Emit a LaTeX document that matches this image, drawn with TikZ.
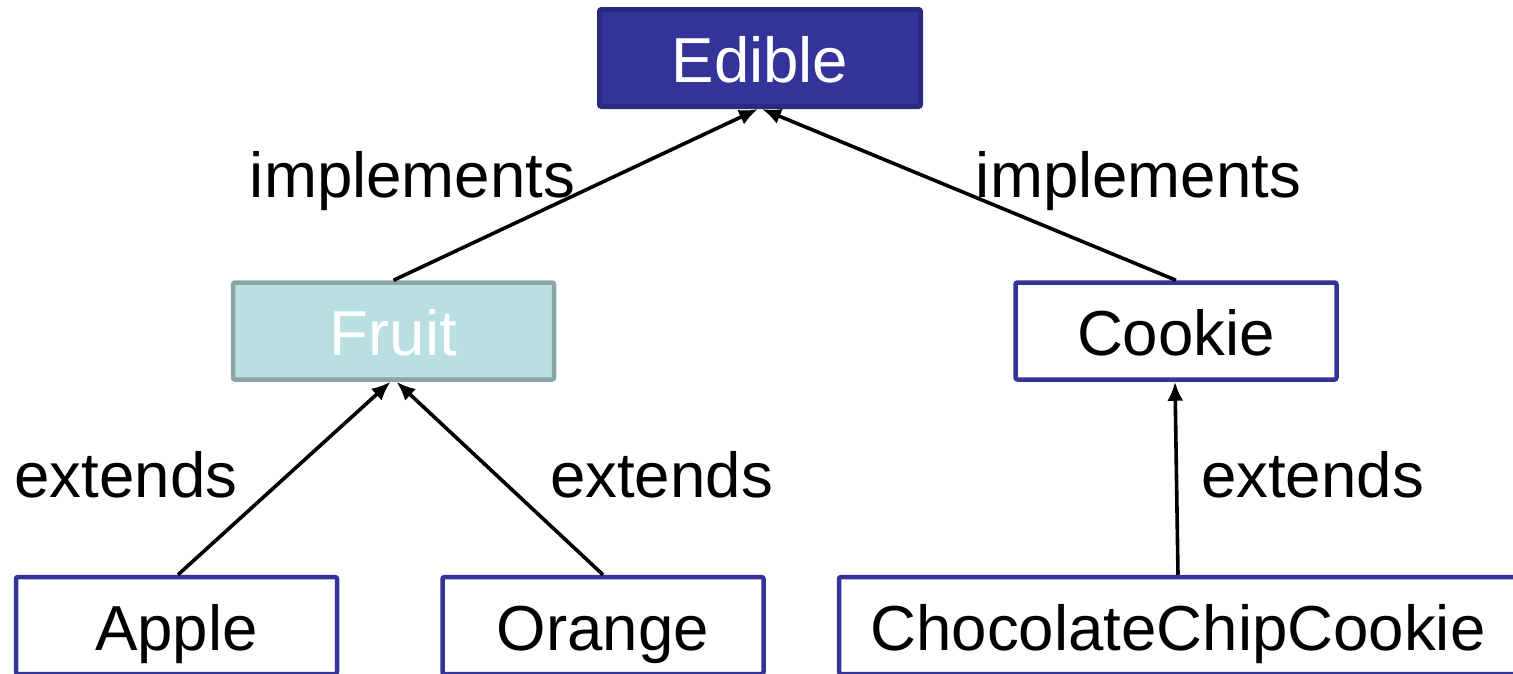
\documentclass[tikz,border=0pt]{standalone}
\usepackage{fontspec}
\setmainfont{Liberation Sans}
\usetikzlibrary{arrows.meta}
\definecolor{ifacefill}{HTML}{333399}
\definecolor{ifaceline}{HTML}{2A2A7F}
\definecolor{fruitfill}{HTML}{B9DFE2}
\definecolor{fruitline}{HTML}{8AA4A8}

\begin{document}
\begin{tikzpicture}[x=1pt,y=-1pt,
  box/.style={draw=ifacefill,line width=4.5pt,fill=white,rounded corners=2pt,
    minimum width=321pt,minimum height=97pt,inner sep=0pt,
    text height=57pt,text depth=8pt,font=\fontsize{63.6}{76}\selectfont},
  iface/.style={box,draw=ifaceline,fill=ifacefill,text=white,line width=5pt},
  absclass/.style={box,draw=fruitline,fill=fruitfill,text=white},
  rel/.style={line width=3.6pt,-{Latex[length=19pt,width=16pt]}},
  lbl/.style={anchor=base,font=\fontsize{63.6}{76}\selectfont}]
\useasboundingbox (0,0) rectangle (1513,673);

\node[iface] (edible) at (760,58) {Edible};
\node[absclass] (fruit) at (393.5,331) {Fruit};
\node[box] (cookie) at (1176,331) {Cookie};
\node[box] (apple) at (176.5,625.5) {Apple};
\node[box] (orange) at (603,625.5) {Orange};
\node[box,minimum width=678pt] (chip) at (1178,625.5) {ChocolateChipCookie};

\draw[rel] (fruit.north) -- ([xshift=-2pt]edible.south);
\draw[rel] (cookie.north) -- ([xshift=2pt]edible.south);
\draw[rel] ([xshift=1.5pt]apple.north) -- ([xshift=-3pt]fruit.south);
\draw[rel] (orange.north) -- ([xshift=3pt]fruit.south);
\draw[rel] (chip.north) -- ([xshift=-1pt]cookie.south);

\node[lbl] (impl1) at (412.5,197) {implements};
\node[lbl] (impl2) at (1138.5,197) {implements};
\node[lbl] (ext1) at (126,497) {extends};
\node[lbl] (ext2) at (661.5,497) {extends};
\node[lbl] (ext3) at (1312.5,497) {extends};
\end{tikzpicture}
\end{document}
